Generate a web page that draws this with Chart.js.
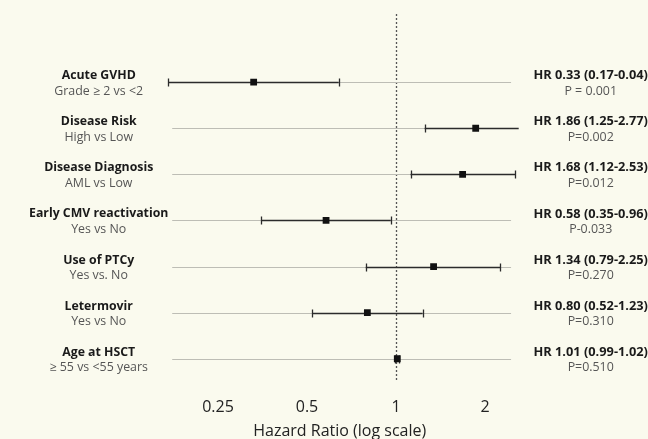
<!DOCTYPE html>
<html>
<head>
<meta charset="utf-8">
<script src="https://cdn.jsdelivr.net/npm/chart.js@4.4.1/dist/chart.umd.min.js"></script>
<style>
  html, body { margin: 0; padding: 0; background: #fafaee; }
  #wrap { width: 648px; height: 439px; }
</style>
</head>
<body>
<div id="wrap"><canvas id="c" width="648" height="439"></canvas></div>
<script>
// ---- data ----
const categories = ["Acute GVHD", "Disease Risk", "Disease Diagnosis", "Early CMV reactivation", "Use of PTCy", "Letermovir", "Age at HSCT"];
const comparisons = ["Grade \u2265 2 vs <2", "High vs Low", "AML vs Low", "Yes vs No", "Yes vs. No", "Yes vs No", "\u2265 55 vs <55 years"];
const hazardRatio = [0.33, 1.86, 1.68, 0.58, 1.34, 0.80, 1.01];
const ciLower = [0.17, 1.25, 1.12, 0.35, 0.79, 0.52, 0.99];
const ciUpper = [0.64, 2.77, 2.53, 0.96, 2.25, 1.23, 1.02];
const hrLabels = ["HR 0.33 (0.17-0.04)", "HR 1.86 (1.25-2.77)", "HR 1.68 (1.12-2.53)", "HR 0.58 (0.35-0.96)", "HR 1.34 (0.79-2.25)", "HR 0.80 (0.52-1.23)", "HR 1.01 (0.99-1.02)"];
const pLabels = ["P = 0.001", "P=0.002", "P=0.012", "P-0.033", "P=0.270", "P=0.310", "P=0.510"];
const xTicks = [0.25, 0.5, 1, 2];
const xTitle = "Hazard Ratio (log scale)";
// ---- config ----
const X_MIN = 0.16, X_MAX = 2.6;
const GUIDE_FROM = 0.175, GUIDE_TO = 2.45;
const FONT = "'Open Sans', sans-serif";

const forestPlugin = {
  id: 'forest',
  beforeDatasetsDraw(chart) {
    const ctx = chart.ctx, xs = chart.scales.x, ys = chart.scales.y, ca = chart.chartArea;
    ctx.save();
    const x1 = Math.round(xs.getPixelForValue(1)) + 0.5;
    ctx.strokeStyle = '#555';
    ctx.lineWidth = 1.3;
    ctx.setLineDash([2, 2]);
    ctx.beginPath();
    ctx.moveTo(x1, ca.top + 1);
    ctx.lineTo(x1, ca.bottom);
    ctx.stroke();
    ctx.setLineDash([]);
    categories.forEach((c, i) => {
      const y = Math.round(ys.getPixelForValue(i + 1)) + 0.5;
      ctx.strokeStyle = '#bdbdb5';
      ctx.lineWidth = 1;
      ctx.beginPath();
      ctx.moveTo(xs.getPixelForValue(GUIDE_FROM), y);
      ctx.lineTo(xs.getPixelForValue(GUIDE_TO), y);
      ctx.stroke();
    });
    ctx.beginPath();
    ctx.rect(ca.left, ca.top, ca.right - ca.left, ca.bottom - ca.top);
    ctx.clip();
    categories.forEach((c, i) => {
      const y = Math.round(ys.getPixelForValue(i + 1)) + 0.5;
      const xl = xs.getPixelForValue(ciLower[i]);
      const xh = xs.getPixelForValue(ciUpper[i]);
      ctx.strokeStyle = '#2b2b2b';
      ctx.lineWidth = 1.6;
      ctx.beginPath();
      ctx.moveTo(xl, y); ctx.lineTo(xh, y);
      ctx.stroke();
      ctx.lineWidth = 1.3;
      ctx.beginPath();
      ctx.moveTo(Math.round(xl) + 0.5, y - 4); ctx.lineTo(Math.round(xl) + 0.5, y + 4);
      ctx.moveTo(Math.round(xh) + 0.5, y - 4); ctx.lineTo(Math.round(xh) + 0.5, y + 4);
      ctx.stroke();
    });
    ctx.restore();
  },
  afterDraw(chart) {
    const ctx = chart.ctx, ys = chart.scales.y, ca = chart.chartArea;
    ctx.save();
    ctx.textAlign = 'center';
    ctx.textBaseline = 'middle';
    categories.forEach((c, i) => {
      const y = ys.getPixelForValue(i + 1);
      const lx = ca.left - 62, rx = ca.right + 72;
      ctx.fillStyle = '#1a1a1a';
      ctx.font = "bold 12.3px " + FONT;
      ctx.fillText(c, lx, y - 6.5);
      ctx.font = "bold 12.8px " + FONT;
      ctx.fillText(hrLabels[i], rx, y - 6.5);
      ctx.fillStyle = '#555';
      ctx.font = "12.4px " + FONT;
      ctx.fillText(comparisons[i], lx, y + 9);
      ctx.fillText(pLabels[i], rx, y + 9);
    });
    ctx.restore();
  }
};

new Chart(document.getElementById('c'), {
  type: 'scatter',
  data: {
    datasets: [{
      data: hazardRatio.map((v, i) => ({ x: v, y: i + 1 })),
      pointStyle: 'rect',
      pointRadius: 4.8,
      pointHoverRadius: 4.8,
      backgroundColor: '#111',
      borderColor: '#111',
      borderWidth: 0
    }]
  },
  options: {
    responsive: false,
    animation: false,
    layout: { padding: { left: 160.7, right: 129.3, top: 13, bottom: 0 } },
    plugins: { legend: { display: false }, tooltip: { enabled: false } },
    scales: {
      x: {
        type: 'logarithmic',
        min: X_MIN, max: X_MAX,
        afterBuildTicks: (s) => { s.ticks = xTicks.map(v => ({ value: v })); },
        grid: { display: false, drawTicks: false },
        border: { display: false },
        ticks: {
          color: '#222',
          font: { family: FONT, size: 16 },
          padding: 16.4,
          maxRotation: 0,
          autoSkip: false,
          callback: (v) => String(v)
        },
        title: {
          display: true, text: xTitle, color: '#222',
          font: { family: FONT, size: 16 }, padding: { top: -12, bottom: -2 }
        }
      },
      y: {
        type: 'linear', reverse: true, min: -0.5, max: 7.5,
        display: false
      }
    }
  },
  plugins: [forestPlugin]
});
</script>
</body>
</html>
